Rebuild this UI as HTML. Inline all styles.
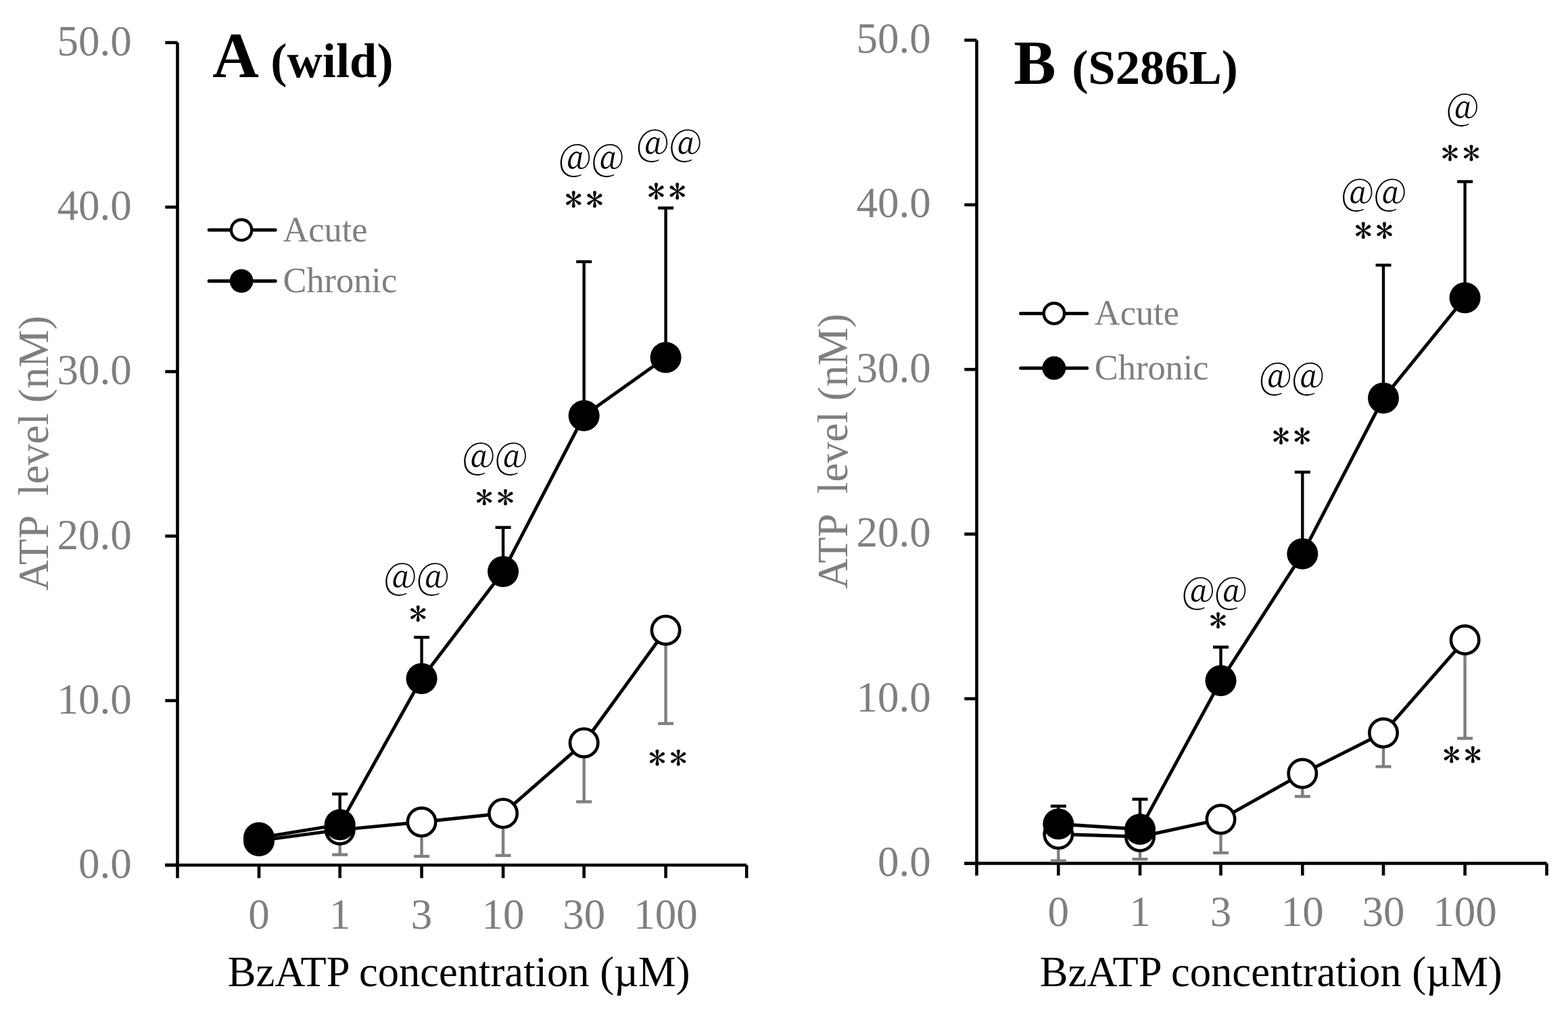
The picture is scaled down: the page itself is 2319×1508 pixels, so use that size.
<!DOCTYPE html>
<html><head><meta charset="utf-8"><title>ATP level vs BzATP concentration</title>
<style>
html,body{margin:0;padding:0;background:#fff;}
body{width:2319px;height:1508px;overflow:hidden;}
svg{display:block;}
text{font-family:"Liberation Serif","Times New Roman",serif;}
text.at{font-family:"Noto Serif CJK SC","Noto Serif CJK JP","Liberation Serif",serif;font-variant-east-asian:full-width;fill:#000;}
text.st{font-family:"IPAGothic","Liberation Serif",sans-serif;fill:#000;stroke:#000;stroke-width:0.3px;}
</style></head><body>
<svg width="2319" height="1508" viewBox="0 0 2319 1508">
<rect width="2319" height="1508" fill="#fff"/>
<line x1="244.30" y1="1279.00" x2="262.50" y2="1279.00" stroke="#000" stroke-width="4.6" stroke-linecap="butt"/>
<line x1="244.30" y1="1035.80" x2="262.50" y2="1035.80" stroke="#000" stroke-width="4.6" stroke-linecap="butt"/>
<line x1="244.30" y1="792.60" x2="262.50" y2="792.60" stroke="#000" stroke-width="4.6" stroke-linecap="butt"/>
<line x1="244.30" y1="549.40" x2="262.50" y2="549.40" stroke="#000" stroke-width="4.6" stroke-linecap="butt"/>
<line x1="244.30" y1="306.20" x2="262.50" y2="306.20" stroke="#000" stroke-width="4.6" stroke-linecap="butt"/>
<line x1="244.30" y1="63.00" x2="262.50" y2="63.00" stroke="#000" stroke-width="4.6" stroke-linecap="butt"/>
<line x1="262.50" y1="63.00" x2="262.50" y2="1298.20" stroke="#000" stroke-width="4.6" stroke-linecap="butt"/>
<line x1="244.30" y1="1279.00" x2="1104.20" y2="1279.00" stroke="#000" stroke-width="4.6" stroke-linecap="butt"/>
<line x1="383.00" y1="1279.00" x2="383.00" y2="1298.20" stroke="#000" stroke-width="4.6" stroke-linecap="butt"/>
<line x1="502.70" y1="1279.00" x2="502.70" y2="1298.20" stroke="#000" stroke-width="4.6" stroke-linecap="butt"/>
<line x1="623.60" y1="1279.00" x2="623.60" y2="1298.20" stroke="#000" stroke-width="4.6" stroke-linecap="butt"/>
<line x1="744.10" y1="1279.00" x2="744.10" y2="1298.20" stroke="#000" stroke-width="4.6" stroke-linecap="butt"/>
<line x1="863.70" y1="1279.00" x2="863.70" y2="1298.20" stroke="#000" stroke-width="4.6" stroke-linecap="butt"/>
<line x1="984.60" y1="1279.00" x2="984.60" y2="1298.20" stroke="#000" stroke-width="4.6" stroke-linecap="butt"/>
<line x1="1104.20" y1="1279.00" x2="1104.20" y2="1298.20" stroke="#000" stroke-width="4.6" stroke-linecap="butt"/>
<text x="194.80" y="1298.00" font-size="63" text-anchor="end" font-weight="normal" fill="#7f7f7f">0.0</text>
<text x="194.80" y="1054.80" font-size="63" text-anchor="end" font-weight="normal" fill="#7f7f7f">10.0</text>
<text x="194.80" y="811.60" font-size="63" text-anchor="end" font-weight="normal" fill="#7f7f7f">20.0</text>
<text x="194.80" y="568.40" font-size="63" text-anchor="end" font-weight="normal" fill="#7f7f7f">30.0</text>
<text x="194.80" y="325.20" font-size="63" text-anchor="end" font-weight="normal" fill="#7f7f7f">40.0</text>
<text x="194.80" y="82.00" font-size="63" text-anchor="end" font-weight="normal" fill="#7f7f7f">50.0</text>
<text x="383.00" y="1372.60" font-size="63" text-anchor="middle" font-weight="normal" fill="#7f7f7f">0</text>
<text x="502.70" y="1372.60" font-size="63" text-anchor="middle" font-weight="normal" fill="#7f7f7f">1</text>
<text x="623.60" y="1372.60" font-size="63" text-anchor="middle" font-weight="normal" fill="#7f7f7f">3</text>
<text x="744.10" y="1372.60" font-size="63" text-anchor="middle" font-weight="normal" fill="#7f7f7f">10</text>
<text x="863.70" y="1372.60" font-size="63" text-anchor="middle" font-weight="normal" fill="#7f7f7f">30</text>
<text x="984.60" y="1372.60" font-size="63" text-anchor="middle" font-weight="normal" fill="#7f7f7f">100</text>
<text x="336.72" y="1458.40" font-size="62.6" text-anchor="start" font-weight="normal" fill="#000">BzATP concentration (µM)</text>
<text transform="translate(70.90,873.23) rotate(-90)" font-size="62.7" fill="#7f7f7f"><tspan x="0" y="0">ATP </tspan><tspan x="140.27" y="0">level (nM)</tspan></text>
<text x="314.35" y="114.00" font-size="95" text-anchor="start" font-weight="bold" fill="#000">A</text>
<text x="400.30" y="114.00" font-size="72.5" text-anchor="start" font-weight="bold" fill="#000">(wild)</text>
<line x1="309.20" y1="340.00" x2="407.20" y2="340.00" stroke="#000" stroke-width="5.0" stroke-linecap="round"/>
<circle cx="357.10" cy="340.00" r="15.20" fill="#fff" stroke="#000" stroke-width="4.4"/>
<text x="418.40" y="357.20" font-size="52.4" text-anchor="start" font-weight="normal" fill="#7f7f7f">Acute</text>
<line x1="309.20" y1="415.40" x2="407.20" y2="415.40" stroke="#000" stroke-width="5.0" stroke-linecap="round"/>
<circle cx="357.10" cy="415.40" r="17.40" fill="#000"/>
<text x="418.40" y="432.40" font-size="52.4" text-anchor="start" font-weight="normal" fill="#7f7f7f">Chronic</text>
<polyline points="383.00,1242.90 502.70,1226.90 623.60,1215.30 744.10,1202.50 863.70,1098.20 984.60,931.70" fill="none" stroke="#000" stroke-width="4.9" stroke-linejoin="round"/>
<line x1="502.70" y1="1226.90" x2="502.70" y2="1263.60" stroke="#7f7f7f" stroke-width="4.4" stroke-linecap="butt"/>
<line x1="491.20" y1="1263.60" x2="514.20" y2="1263.60" stroke="#7f7f7f" stroke-width="4.4" stroke-linecap="butt"/>
<line x1="623.60" y1="1215.30" x2="623.60" y2="1266.00" stroke="#7f7f7f" stroke-width="4.4" stroke-linecap="butt"/>
<line x1="612.10" y1="1266.00" x2="635.10" y2="1266.00" stroke="#7f7f7f" stroke-width="4.4" stroke-linecap="butt"/>
<line x1="744.10" y1="1202.50" x2="744.10" y2="1264.80" stroke="#7f7f7f" stroke-width="4.4" stroke-linecap="butt"/>
<line x1="732.60" y1="1264.80" x2="755.60" y2="1264.80" stroke="#7f7f7f" stroke-width="4.4" stroke-linecap="butt"/>
<line x1="863.70" y1="1098.20" x2="863.70" y2="1185.40" stroke="#7f7f7f" stroke-width="4.4" stroke-linecap="butt"/>
<line x1="852.20" y1="1185.40" x2="875.20" y2="1185.40" stroke="#7f7f7f" stroke-width="4.4" stroke-linecap="butt"/>
<line x1="984.60" y1="931.70" x2="984.60" y2="1069.70" stroke="#7f7f7f" stroke-width="4.4" stroke-linecap="butt"/>
<line x1="973.10" y1="1069.70" x2="996.10" y2="1069.70" stroke="#7f7f7f" stroke-width="4.4" stroke-linecap="butt"/>
<circle cx="383.00" cy="1242.90" r="20.70" fill="#fff" stroke="#000" stroke-width="4.6"/>
<circle cx="502.70" cy="1226.90" r="20.70" fill="#fff" stroke="#000" stroke-width="4.6"/>
<circle cx="623.60" cy="1215.30" r="20.70" fill="#fff" stroke="#000" stroke-width="4.6"/>
<circle cx="744.10" cy="1202.50" r="20.70" fill="#fff" stroke="#000" stroke-width="4.6"/>
<circle cx="863.70" cy="1098.20" r="20.70" fill="#fff" stroke="#000" stroke-width="4.6"/>
<circle cx="984.60" cy="931.70" r="20.70" fill="#fff" stroke="#000" stroke-width="4.6"/>
<polyline points="383.00,1238.60 502.70,1219.20 623.60,1003.20 744.10,845.00 863.70,614.60 984.60,528.60" fill="none" stroke="#000" stroke-width="4.9" stroke-linejoin="round"/>
<line x1="502.70" y1="1219.20" x2="502.70" y2="1173.90" stroke="#000" stroke-width="4.4" stroke-linecap="butt"/>
<line x1="491.20" y1="1173.90" x2="514.20" y2="1173.90" stroke="#000" stroke-width="4.4" stroke-linecap="butt"/>
<line x1="623.60" y1="1003.20" x2="623.60" y2="942.20" stroke="#000" stroke-width="4.4" stroke-linecap="butt"/>
<line x1="612.10" y1="942.20" x2="635.10" y2="942.20" stroke="#000" stroke-width="4.4" stroke-linecap="butt"/>
<line x1="744.10" y1="845.00" x2="744.10" y2="779.80" stroke="#000" stroke-width="4.4" stroke-linecap="butt"/>
<line x1="732.60" y1="779.80" x2="755.60" y2="779.80" stroke="#000" stroke-width="4.4" stroke-linecap="butt"/>
<line x1="863.70" y1="614.60" x2="863.70" y2="386.90" stroke="#000" stroke-width="4.4" stroke-linecap="butt"/>
<line x1="852.20" y1="386.90" x2="875.20" y2="386.90" stroke="#000" stroke-width="4.4" stroke-linecap="butt"/>
<line x1="984.60" y1="528.60" x2="984.60" y2="307.50" stroke="#000" stroke-width="4.4" stroke-linecap="butt"/>
<line x1="973.10" y1="307.50" x2="996.10" y2="307.50" stroke="#000" stroke-width="4.4" stroke-linecap="butt"/>
<circle cx="383.00" cy="1238.60" r="23.00" fill="#000"/>
<circle cx="502.70" cy="1219.20" r="23.00" fill="#000"/>
<circle cx="623.60" cy="1003.20" r="23.00" fill="#000"/>
<circle cx="744.10" cy="845.00" r="23.00" fill="#000"/>
<circle cx="863.70" cy="614.60" r="23.00" fill="#000"/>
<circle cx="984.60" cy="528.60" r="23.00" fill="#000"/>
<text class="at" transform="translate(616.25,856.65) scale(0.958,0.983)" x="-52.08 -1.66" y="16.38" font-size="53">@@</text>
<text class="st" transform="translate(618.35,906.65) scale(1.080,0.983)" x="-12.03" y="18.31" font-size="48.2">*</text>
<text class="at" transform="translate(732.15,678.45) scale(0.958,0.995)" x="-52.08 -1.66" y="16.38" font-size="53">@@</text>
<text class="st" transform="translate(731.80,734.70) scale(1.080,0.996)" x="-26.52 2.46" y="18.31" font-size="48.2">**</text>
<text class="at" transform="translate(874.75,237.65) scale(0.958,1.003)" x="-52.08 -1.66" y="16.38" font-size="53">@@</text>
<text class="st" transform="translate(863.80,294.15) scale(1.080,1.025)" x="-26.52 2.46" y="18.31" font-size="48.2">**</text>
<text class="at" transform="translate(989.75,215.60) scale(0.958,0.997)" x="-52.08 -1.66" y="16.38" font-size="53">@@</text>
<text class="st" transform="translate(986.15,282.25) scale(1.080,1.025)" x="-26.52 2.46" y="18.31" font-size="48.2">**</text>
<text class="st" transform="translate(987.70,1119.85) scale(1.080,1.000)" x="-26.52 2.46" y="18.31" font-size="48.2">**</text>
<line x1="1426.30" y1="1276.40" x2="1444.50" y2="1276.40" stroke="#000" stroke-width="4.6" stroke-linecap="butt"/>
<line x1="1426.30" y1="1033.00" x2="1444.50" y2="1033.00" stroke="#000" stroke-width="4.6" stroke-linecap="butt"/>
<line x1="1426.30" y1="789.60" x2="1444.50" y2="789.60" stroke="#000" stroke-width="4.6" stroke-linecap="butt"/>
<line x1="1426.30" y1="546.20" x2="1444.50" y2="546.20" stroke="#000" stroke-width="4.6" stroke-linecap="butt"/>
<line x1="1426.30" y1="302.80" x2="1444.50" y2="302.80" stroke="#000" stroke-width="4.6" stroke-linecap="butt"/>
<line x1="1426.30" y1="59.40" x2="1444.50" y2="59.40" stroke="#000" stroke-width="4.6" stroke-linecap="butt"/>
<line x1="1444.50" y1="59.40" x2="1444.50" y2="1294.40" stroke="#000" stroke-width="4.6" stroke-linecap="butt"/>
<line x1="1426.30" y1="1276.40" x2="2287.50" y2="1276.40" stroke="#000" stroke-width="4.6" stroke-linecap="butt"/>
<line x1="1565.30" y1="1276.40" x2="1565.30" y2="1294.40" stroke="#000" stroke-width="4.6" stroke-linecap="butt"/>
<line x1="1686.00" y1="1276.40" x2="1686.00" y2="1294.40" stroke="#000" stroke-width="4.6" stroke-linecap="butt"/>
<line x1="1805.50" y1="1276.40" x2="1805.50" y2="1294.40" stroke="#000" stroke-width="4.6" stroke-linecap="butt"/>
<line x1="1926.30" y1="1276.40" x2="1926.30" y2="1294.40" stroke="#000" stroke-width="4.6" stroke-linecap="butt"/>
<line x1="2046.00" y1="1276.40" x2="2046.00" y2="1294.40" stroke="#000" stroke-width="4.6" stroke-linecap="butt"/>
<line x1="2166.60" y1="1276.40" x2="2166.60" y2="1294.40" stroke="#000" stroke-width="4.6" stroke-linecap="butt"/>
<line x1="2287.50" y1="1276.40" x2="2287.50" y2="1294.40" stroke="#000" stroke-width="4.6" stroke-linecap="butt"/>
<text x="1376.80" y="1295.00" font-size="63" text-anchor="end" font-weight="normal" fill="#7f7f7f">0.0</text>
<text x="1376.80" y="1051.60" font-size="63" text-anchor="end" font-weight="normal" fill="#7f7f7f">10.0</text>
<text x="1376.80" y="808.20" font-size="63" text-anchor="end" font-weight="normal" fill="#7f7f7f">20.0</text>
<text x="1376.80" y="564.80" font-size="63" text-anchor="end" font-weight="normal" fill="#7f7f7f">30.0</text>
<text x="1376.80" y="321.40" font-size="63" text-anchor="end" font-weight="normal" fill="#7f7f7f">40.0</text>
<text x="1376.80" y="78.00" font-size="63" text-anchor="end" font-weight="normal" fill="#7f7f7f">50.0</text>
<text x="1565.30" y="1368.80" font-size="63" text-anchor="middle" font-weight="normal" fill="#7f7f7f">0</text>
<text x="1686.00" y="1368.80" font-size="63" text-anchor="middle" font-weight="normal" fill="#7f7f7f">1</text>
<text x="1805.50" y="1368.80" font-size="63" text-anchor="middle" font-weight="normal" fill="#7f7f7f">3</text>
<text x="1926.30" y="1368.80" font-size="63" text-anchor="middle" font-weight="normal" fill="#7f7f7f">10</text>
<text x="2046.00" y="1368.80" font-size="63" text-anchor="middle" font-weight="normal" fill="#7f7f7f">30</text>
<text x="2166.60" y="1368.80" font-size="63" text-anchor="middle" font-weight="normal" fill="#7f7f7f">100</text>
<text x="1537.82" y="1458.30" font-size="62.6" text-anchor="start" font-weight="normal" fill="#000">BzATP concentration (µM)</text>
<text transform="translate(1253.10,870.83) rotate(-90)" font-size="62.7" fill="#7f7f7f"><tspan x="0" y="0">ATP </tspan><tspan x="140.87" y="0">level (nM)</tspan></text>
<text x="1499.13" y="123.90" font-size="93.5" text-anchor="start" font-weight="bold" fill="#000">B</text>
<text x="1585.20" y="123.90" font-size="72.5" text-anchor="start" font-weight="bold" fill="#000">(S286L)</text>
<line x1="1509.60" y1="463.40" x2="1607.60" y2="463.40" stroke="#000" stroke-width="5.0" stroke-linecap="round"/>
<circle cx="1558.90" cy="463.40" r="15.20" fill="#fff" stroke="#000" stroke-width="4.4"/>
<text x="1618.80" y="480.40" font-size="52.4" text-anchor="start" font-weight="normal" fill="#7f7f7f">Acute</text>
<line x1="1509.60" y1="544.20" x2="1607.60" y2="544.20" stroke="#000" stroke-width="5.0" stroke-linecap="round"/>
<circle cx="1558.90" cy="544.20" r="17.40" fill="#000"/>
<text x="1618.80" y="560.60" font-size="52.4" text-anchor="start" font-weight="normal" fill="#7f7f7f">Chronic</text>
<polyline points="1565.30,1233.30 1686.00,1237.00 1805.50,1211.30 1926.30,1143.60 2046.00,1083.60 2166.60,946.10" fill="none" stroke="#000" stroke-width="4.9" stroke-linejoin="round"/>
<line x1="1565.30" y1="1233.30" x2="1565.30" y2="1272.70" stroke="#7f7f7f" stroke-width="4.4" stroke-linecap="butt"/>
<line x1="1553.80" y1="1272.70" x2="1576.80" y2="1272.70" stroke="#7f7f7f" stroke-width="4.4" stroke-linecap="butt"/>
<line x1="1686.00" y1="1237.00" x2="1686.00" y2="1270.20" stroke="#7f7f7f" stroke-width="4.4" stroke-linecap="butt"/>
<line x1="1674.50" y1="1270.20" x2="1697.50" y2="1270.20" stroke="#7f7f7f" stroke-width="4.4" stroke-linecap="butt"/>
<line x1="1805.50" y1="1211.30" x2="1805.50" y2="1260.90" stroke="#7f7f7f" stroke-width="4.4" stroke-linecap="butt"/>
<line x1="1794.00" y1="1260.90" x2="1817.00" y2="1260.90" stroke="#7f7f7f" stroke-width="4.4" stroke-linecap="butt"/>
<line x1="1926.30" y1="1143.60" x2="1926.30" y2="1177.50" stroke="#7f7f7f" stroke-width="4.4" stroke-linecap="butt"/>
<line x1="1914.80" y1="1177.50" x2="1937.80" y2="1177.50" stroke="#7f7f7f" stroke-width="4.4" stroke-linecap="butt"/>
<line x1="2046.00" y1="1083.60" x2="2046.00" y2="1133.40" stroke="#7f7f7f" stroke-width="4.4" stroke-linecap="butt"/>
<line x1="2034.50" y1="1133.40" x2="2057.50" y2="1133.40" stroke="#7f7f7f" stroke-width="4.4" stroke-linecap="butt"/>
<line x1="2166.60" y1="946.10" x2="2166.60" y2="1091.60" stroke="#7f7f7f" stroke-width="4.4" stroke-linecap="butt"/>
<line x1="2155.10" y1="1091.60" x2="2178.10" y2="1091.60" stroke="#7f7f7f" stroke-width="4.4" stroke-linecap="butt"/>
<circle cx="1565.30" cy="1233.30" r="20.70" fill="#fff" stroke="#000" stroke-width="4.6"/>
<circle cx="1686.00" cy="1237.00" r="20.70" fill="#fff" stroke="#000" stroke-width="4.6"/>
<circle cx="1805.50" cy="1211.30" r="20.70" fill="#fff" stroke="#000" stroke-width="4.6"/>
<circle cx="1926.30" cy="1143.60" r="20.70" fill="#fff" stroke="#000" stroke-width="4.6"/>
<circle cx="2046.00" cy="1083.60" r="20.70" fill="#fff" stroke="#000" stroke-width="4.6"/>
<circle cx="2166.60" cy="946.10" r="20.70" fill="#fff" stroke="#000" stroke-width="4.6"/>
<polyline points="1565.30,1218.30 1686.00,1226.00 1805.50,1006.30 1926.30,818.80 2046.00,588.60 2166.60,440.20" fill="none" stroke="#000" stroke-width="4.9" stroke-linejoin="round"/>
<line x1="1565.30" y1="1218.30" x2="1565.30" y2="1191.80" stroke="#000" stroke-width="4.4" stroke-linecap="butt"/>
<line x1="1553.80" y1="1191.80" x2="1576.80" y2="1191.80" stroke="#000" stroke-width="4.4" stroke-linecap="butt"/>
<line x1="1686.00" y1="1226.00" x2="1686.00" y2="1181.60" stroke="#000" stroke-width="4.4" stroke-linecap="butt"/>
<line x1="1674.50" y1="1181.60" x2="1697.50" y2="1181.60" stroke="#000" stroke-width="4.4" stroke-linecap="butt"/>
<line x1="1805.50" y1="1006.30" x2="1805.50" y2="956.70" stroke="#000" stroke-width="4.4" stroke-linecap="butt"/>
<line x1="1794.00" y1="956.70" x2="1817.00" y2="956.70" stroke="#000" stroke-width="4.4" stroke-linecap="butt"/>
<line x1="1926.30" y1="818.80" x2="1926.30" y2="698.00" stroke="#000" stroke-width="4.4" stroke-linecap="butt"/>
<line x1="1914.80" y1="698.00" x2="1937.80" y2="698.00" stroke="#000" stroke-width="4.4" stroke-linecap="butt"/>
<line x1="2046.00" y1="588.60" x2="2046.00" y2="392.00" stroke="#000" stroke-width="4.4" stroke-linecap="butt"/>
<line x1="2034.50" y1="392.00" x2="2057.50" y2="392.00" stroke="#000" stroke-width="4.4" stroke-linecap="butt"/>
<line x1="2166.60" y1="440.20" x2="2166.60" y2="268.50" stroke="#000" stroke-width="4.4" stroke-linecap="butt"/>
<line x1="2155.10" y1="268.50" x2="2178.10" y2="268.50" stroke="#000" stroke-width="4.4" stroke-linecap="butt"/>
<circle cx="1565.30" cy="1218.30" r="23.00" fill="#000"/>
<circle cx="1686.00" cy="1226.00" r="23.00" fill="#000"/>
<circle cx="1805.50" cy="1006.30" r="23.00" fill="#000"/>
<circle cx="1926.30" cy="818.80" r="23.00" fill="#000"/>
<circle cx="2046.00" cy="588.60" r="23.00" fill="#000"/>
<circle cx="2166.60" cy="440.20" r="23.00" fill="#000"/>
<text class="at" transform="translate(1796.35,877.75) scale(0.958,0.991)" x="-52.08 -1.66" y="16.38" font-size="53">@@</text>
<text class="st" transform="translate(1801.55,916.95) scale(1.080,1.000)" x="-12.03" y="18.31" font-size="48.2">*</text>
<text class="at" transform="translate(1910.55,560.40) scale(0.958,1.001)" x="-52.08 -1.66" y="16.38" font-size="53">@@</text>
<text class="st" transform="translate(1910.15,644.00) scale(1.080,1.037)" x="-26.52 2.46" y="18.31" font-size="48.2">**</text>
<text class="at" transform="translate(2031.85,288.35) scale(0.958,0.995)" x="-52.08 -1.66" y="16.38" font-size="53">@@</text>
<text class="st" transform="translate(2031.85,339.85) scale(1.080,1.033)" x="-26.52 2.46" y="18.31" font-size="48.2">**</text>
<text class="at" transform="translate(2163.20,162.30) scale(0.958,0.997)" x="-26.87" y="16.38" font-size="53">@</text>
<text class="st" transform="translate(2160.25,226.00) scale(1.080,0.996)" x="-26.52 2.46" y="18.31" font-size="48.2">**</text>
<text class="st" transform="translate(2162.50,1114.90) scale(1.080,1.021)" x="-26.52 2.46" y="18.31" font-size="48.2">**</text>
</svg>
</body></html>
